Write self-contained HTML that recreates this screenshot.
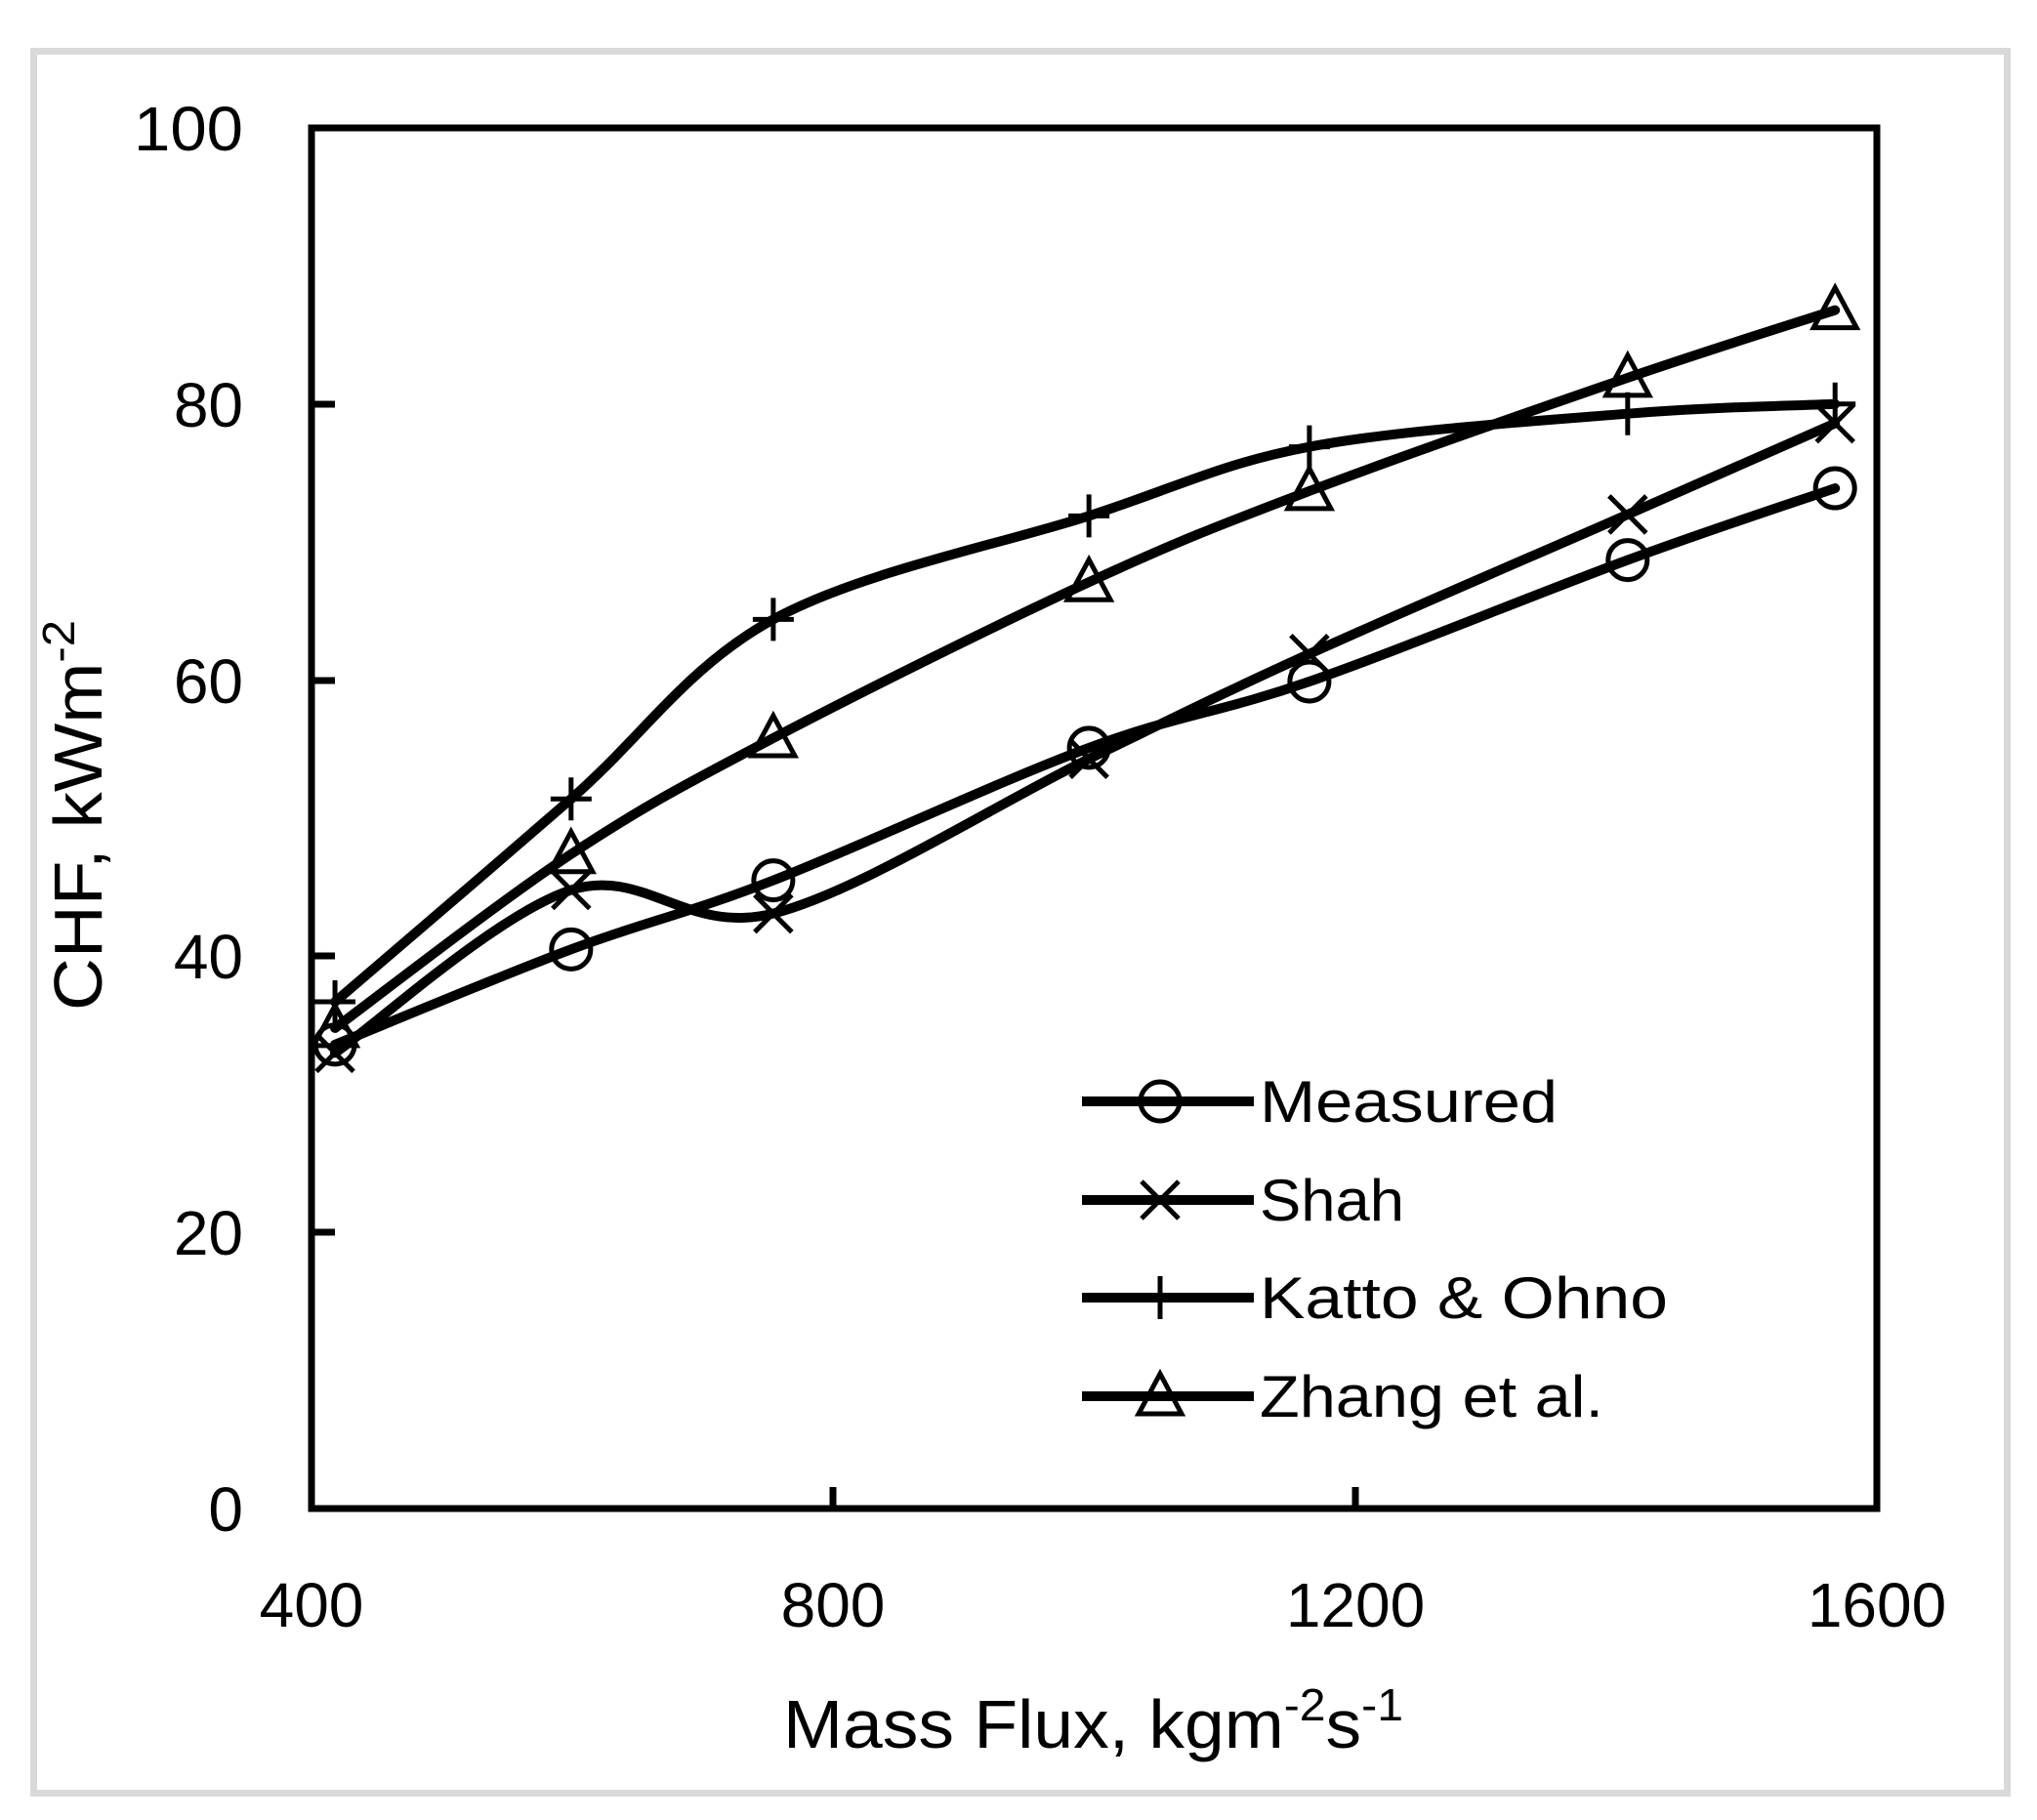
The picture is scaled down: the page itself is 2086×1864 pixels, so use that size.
<!DOCTYPE html>
<html><head><meta charset="utf-8"><style>
html,body{margin:0;padding:0;background:#fff;}
svg{display:block;}
text{font-family:"Liberation Sans",sans-serif;fill:#000;}
</style></head><body>
<svg id="s" width="2086" height="1864" viewBox="0 0 2086 1864" xmlns="http://www.w3.org/2000/svg">
<rect x="0" y="0" width="2086" height="1864" fill="#fff"/>
<rect x="34.5" y="52.5" width="2021" height="1784" fill="none" stroke="#d9d9d9" stroke-width="7"/>
<g stroke="#000" stroke-width="7" fill="none">
<rect x="319" y="131" width="1603" height="1414"/>
<line x1="853" y1="1545" x2="853" y2="1523"/>
<line x1="1388" y1="1545" x2="1388" y2="1523"/>
<line x1="319" y1="1262" x2="343" y2="1262"/>
<line x1="319" y1="979" x2="343" y2="979"/>
<line x1="319" y1="697" x2="343" y2="697"/>
<line x1="319" y1="414" x2="343" y2="414"/>
</g>
<g font-size="64" text-anchor="end">
<text x="249" y="154" textLength="112" lengthAdjust="spacingAndGlyphs">100</text>
<text x="249" y="437">80</text>
<text x="249" y="720">60</text>
<text x="249" y="1002">40</text>
<text x="249" y="1285">20</text>
<text x="249" y="1568">0</text>
</g>
<g font-size="64" text-anchor="middle">
<text x="319" y="1666">400</text>
<text x="853" y="1666">800</text>
<text x="1388" y="1666">1200</text>
<text x="1922" y="1666">1600</text>
</g>
<text x="802" y="1790" font-size="70" textLength="635" lengthAdjust="spacingAndGlyphs">Mass Flux, kgm<tspan font-size="46" dy="-28">-2</tspan><tspan dy="28">s</tspan><tspan font-size="46" dy="-28">-1</tspan></text>
<text transform="translate(104,1035) rotate(-90)" font-size="70" textLength="400" lengthAdjust="spacingAndGlyphs">CHF, kWm<tspan font-size="46" dy="-28">-2</tspan></text>
<g id="series"></g>
<g font-size="60">
<text x="1290" y="1149" textLength="305" lengthAdjust="spacingAndGlyphs">Measured</text>
<text x="1290" y="1250" textLength="148" lengthAdjust="spacingAndGlyphs">Shah</text>
<text x="1290" y="1350" textLength="418" lengthAdjust="spacingAndGlyphs">Katto &amp; Ohno</text>
<text x="1290" y="1451" textLength="352" lengthAdjust="spacingAndGlyphs">Zhang et al.</text>
</g>
</svg>
<script>
const X=v=>319+(v-400)*1.3358, Y=v=>1545-v*14.14;
const xs=[418,599,754,996,1165,1409,1568];
const data={
c:[33.6,40.5,45.5,55.1,59.9,68.7,73.9],
x:[33,44.8,43.1,54.3,61.9,72,78.6],
p:[36.7,51.4,64.4,71.9,76.9,79.3,80],
t:[34.8,47.4,55.8,67.1,73.7,81.9,86.8]};
const g=document.getElementById('series');
let h='';
function path(pts){
 let d='M'+pts[0][0]+','+pts[0][1];
 for(let i=0;i<pts.length-1;i++){
  const p0=pts[Math.max(0,i-1)],p1=pts[i],p2=pts[i+1],p3=pts[Math.min(pts.length-1,i+2)];
  const c1=[p1[0]+(p2[0]-p0[0])/6,p1[1]+(p2[1]-p0[1])/6];
  const c2=[p2[0]-(p3[0]-p1[0])/6,p2[1]-(p3[1]-p1[1])/6];
  d+=' C'+c1+' '+c2+' '+p2;
 }
 return d;
}
function mk(t,x,y){
 if(t=='c')return `<circle cx="${x}" cy="${y}" r="20" fill="none" stroke="#000" stroke-width="5"/>`;
 if(t=='x')return `<path d="M${x-19},${y-19}L${x+19},${y+19}M${x-19},${y+19}L${x+19},${y-19}" stroke="#000" stroke-width="5"/>`;
 if(t=='p')return `<path d="M${x-21},${y}H${x+21}M${x},${y-22}V${y+22}" stroke="#000" stroke-width="5"/>`;
 return `<path d="M${x},${y-23}L${x+22},${y+18}H${x-22}Z" fill="none" stroke="#000" stroke-width="5"/>`;
}
for(const k of ['c','x','p','t']){
 const pts=xs.map((v,i)=>[X(v),Y(data[k][i])]);
 h+=`<path d="${path(pts)}" fill="none" stroke="#000" stroke-width="10" stroke-linejoin="round" stroke-linecap="round"/>`;
 pts.forEach(p=>h+=mk(k,p[0],p[1]));
}
const ly={c:1128,x:1229,p:1329,t:1430};
for(const k in ly){h+=`<line x1="1108" y1="${ly[k]}" x2="1284" y2="${ly[k]}" stroke="#000" stroke-width="10"/>`+mk(k,1188,ly[k]);}
g.innerHTML=h;
</script>
</body></html>
